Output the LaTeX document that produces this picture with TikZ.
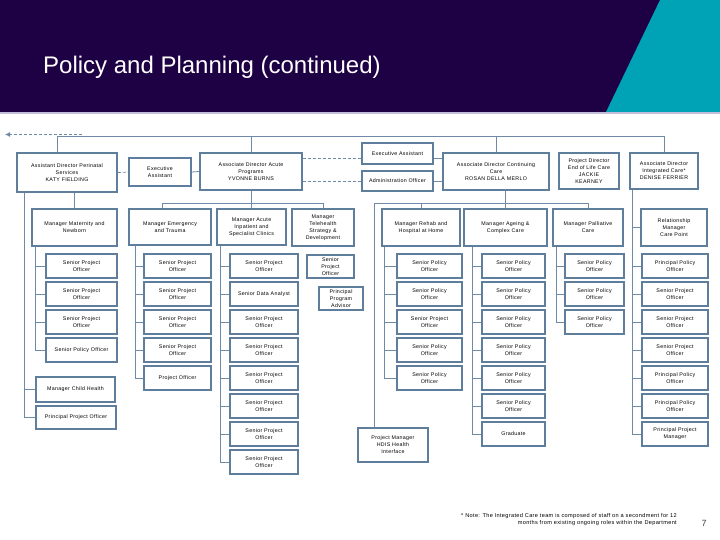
\documentclass[tikz,border=0pt]{standalone}
\usepackage{fontspec}
\setmainfont{Liberation Sans}
\newfontfamily\spacedfam[LetterSpace=6]{Liberation Sans}
\usetikzlibrary{calc}
\usetikzlibrary{positioning, arrows.meta}

\definecolor{navy}{HTML}{1E0044}
\definecolor{teal}{HTML}{00A2B6}
\definecolor{rule}{HTML}{C4BEDA}
\definecolor{postblue}{HTML}{5F7E9C}
\definecolor{linkblue}{HTML}{6F8AA6}

\newcommand{\boxfont}{\spacedfam\fontsize{5.3}{7}\selectfont}

\tikzset{
    post/.style={draw=postblue, line width=1.5pt, fill=white, align=center,
        font=\boxfont, inner sep=1pt, text=black},
    link/.style={draw=linkblue, line width=0.8pt},
    dashlink/.style={link, dash pattern=on 3pt off 2pt}
}

\begin{document}
\begin{tikzpicture}[x=1pt, y=-1pt]

    % --- Page and header ---
    \useasboundingbox (0,0) rectangle (720,540);
    \fill[white] (0,0) rectangle (720,540);
    \fill[navy] (0,0) rectangle (720,112);
    \fill[teal] (660,0) -- (720,0) -- (720,112) -- (606,112) -- cycle;
    \fill[rule] (0,112) rectangle (720,114);
    \node[anchor=west, text=white, font=\fontsize{24}{27}\selectfont, inner sep=0pt]
        (title) at (43,67) {Policy and Planning (continued)};

    % --- Directors ---
    \node[post, minimum width=100pt, minimum height=39pt] (katy) at (67,172.5)
        {Assistant Director Perinatal\\Services\\KATY FIELDING};
    \node[post, minimum width=62pt, minimum height=28pt] (eaL) at (160,172)
        {Executive\\Assistant};
    \node[post, minimum width=102pt, minimum height=37pt] (yvonne) at (251,171.5)
        {Associate Director Acute\\Programs\\YVONNE BURNS};
    \node[post, minimum width=71pt, minimum height=21pt] (eaR) at (397.5,153.5)
        {Executive Assistant};
    \node[post, minimum width=71pt, minimum height=20pt] (adm) at (397.5,181)
        {Administration Officer};
    \node[post, minimum width=106pt, minimum height=37pt] (rosanne) at (496,171.5)
        {Associate Director Continuing\\Care\\ROSAN DELLA MERLO};
    \node[post, minimum width=60pt, minimum height=36pt] (jackie) at (589,171)
        {Project Director\\End of Life Care\\JACKIE\\KEARNEY};
    \node[post, minimum width=68pt, minimum height=36pt] (denise) at (664,171)
        {Associate Director\\Integrated Care*\\DENISE FERRIER};

    % --- Managers ---
    \node[post, minimum width=85pt, minimum height=37pt] (mat) at (74.5,227.5)
        {Manager Maternity and\\Newborn};
    \node[post, minimum width=82pt, minimum height=36pt] (emg) at (170,227)
        {Manager Emergency\\and Trauma};
    \node[post, minimum width=69pt, minimum height=36pt] (acu) at (251.5,227)
        {Manager Acute\\Inpatient and\\Specialist Clinics};
    \node[post, minimum width=62pt, minimum height=37pt] (tele) at (323,227.5)
        {Manager\\Telehealth\\Strategy \&\\Development};
    \node[post, minimum width=78pt, minimum height=37pt] (reh) at (421,227.5)
        {Manager Rehab and\\Hospital at Home};
    \node[post, minimum width=83pt, minimum height=37pt] (age) at (505.5,227.5)
        {Manager Ageing \&\\Complex Care};
    \node[post, minimum width=70pt, minimum height=37pt] (pal) at (588,227.5)
        {Manager Palliative\\Care};
    \node[post, minimum width=66pt, minimum height=37pt] (rel) at (674,227.5)
        {Relationship\\Manager\\Care Point};

    % --- Single posts ---
    \node[post, minimum width=47pt, minimum height=23pt] (tsp) at (330.5,266.5)
        {Senior\\Project\\Officer};
    \node[post, minimum width=44pt, minimum height=23pt] (ppa) at (341,298.5)
        {Principal\\Program\\Advisor};
    \node[post, minimum width=79pt, minimum height=25pt] (child) at (75.5,389.5)
        {Manager Child Health};
    \node[post, minimum width=80pt, minimum height=23pt] (ppo) at (76,417.5)
        {Principal Project Officer};
    \node[post, minimum width=70pt, minimum height=34pt] (hdis) at (393,445)
        {Project Manager\\HDIS Health\\Interface};

    % --- Top level connectors ---
    \coordinate (tbar) at (0,136);
    \coordinate (katytop) at ([xshift=-10pt]katy.north);
    \draw[link] (katytop) |- (tbar -| denise.north) -- (denise.north);
    \draw[link] (yvonne.north) -- (yvonne.north |- tbar);
    \draw[link] (rosanne.north) -- (rosanne.north |- tbar);
    \coordinate (upstart) at (82,134.5);
    \coordinate (upend) at (5,134.5);
    \draw[dashlink, -{Latex[length=5pt, width=5pt]}] (upstart) -- (upend);

    % Assistants
    \draw[dashlink] (katy.east) -- (eaL.west);
    \draw[link] (eaL.east) -- (yvonne.west);
    \coordinate (dashA) at ($(eaR.west)+(0,5)$);
    \draw[dashlink] (yvonne.east |- dashA) -- (dashA);
    \draw[dashlink] (yvonne.east |- adm.west) -- (adm.west);
    \draw[link] (eaR.east |- dashA) -- (rosanne.west |- dashA);
    \draw[link] (adm.east) -- (rosanne.west |- adm.east);

    % --- Perinatal ---
    \draw[link] (mat.north) -- (mat.north |- katy.south);
    \coordinate (katyspine) at ([xshift=8pt]katy.south west);
    \draw[link] (katyspine) |- (child.west);
    \draw[link] (katyspine) |- (ppo.west);

    % --- Acute programs ---
    \coordinate (ybar) at (0,203);
    \coordinate (emgtop) at ([xshift=-8pt]emg.north);
    \draw[link] (emgtop) |- (ybar -| tele.north) -- (tele.north);
    \draw[link] (yvonne.south) -- (yvonne.south |- acu.north);

    % --- Continuing care ---
    \coordinate (rbar) at (0,203);
    \coordinate (hdistop) at ([xshift=-19pt]hdis.north);
    \draw[link] (hdistop) |- (rbar -| pal.north) -- (pal.north);
    \draw[link] (age.north |- rosanne.south) -- (age.north);
    \draw[link] (reh.north) -- (reh.north |- rbar);

    % --- Integrated care ---
    \coordinate (intspine) at ([xshift=3pt]denise.south west);
    \draw[link] (intspine) |- (rel.west);

    % --- Staff columns ---
    \foreach \txt [count=\i] in {{Senior Project\\Officer}, {Senior Project\\Officer},
        {Senior Project\\Officer}, {Senior Policy Officer}} {
        \node[post, minimum width=71pt, minimum height=24pt] (mat\i) at (81.5, 238+28*\i) {\txt};
        \draw[link] ([xshift=4pt]mat.south west) |- (mat\i.west);
    }
    \foreach \txt [count=\i] in {{Senior Project\\Officer}, {Senior Project\\Officer},
        {Senior Project\\Officer}, {Senior Project\\Officer}, {Project Officer}} {
        \node[post, minimum width=67pt, minimum height=24pt] (emg\i) at (177.5, 238+28*\i) {\txt};
        \draw[link] ([xshift=7pt]emg.south west) |- (emg\i.west);
    }
    \foreach \txt [count=\i] in {{Senior Project\\Officer}, {Senior Data Analyst},
        {Senior Project\\Officer}, {Senior Project\\Officer}, {Senior Project\\Officer},
        {Senior Project\\Officer}, {Senior Project\\Officer}, {Senior Project\\Officer}} {
        \node[post, minimum width=68pt, minimum height=24pt] (acu\i) at (264, 238+28*\i) {\txt};
        \draw[link] ([xshift=4pt]acu.south west) |- (acu\i.west);
    }
    \foreach \txt [count=\i] in {{Senior Policy\\Officer}, {Senior Policy\\Officer},
        {Senior Project\\Officer}, {Senior Policy\\Officer}, {Senior Policy\\Officer}} {
        \node[post, minimum width=65pt, minimum height=24pt] (reh\i) at (429.5, 238+28*\i) {\txt};
        \draw[link] ([xshift=3pt]reh.south west) |- (reh\i.west);
    }
    \foreach \txt [count=\i] in {{Senior Policy\\Officer}, {Senior Policy\\Officer},
        {Senior Policy\\Officer}, {Senior Policy\\Officer}, {Senior Policy\\Officer},
        {Senior Policy\\Officer}, {Graduate}} {
        \node[post, minimum width=63pt, minimum height=24pt] (age\i) at (513.5, 238+28*\i) {\txt};
        \draw[link] ([xshift=9pt]age.south west) |- (age\i.west);
    }
    \foreach \txt [count=\i] in {{Senior Policy\\Officer}, {Senior Policy\\Officer},
        {Senior Policy\\Officer}} {
        \node[post, minimum width=59pt, minimum height=24pt] (pal\i) at (594.5, 238+28*\i) {\txt};
        \draw[link] ([xshift=4pt]pal.south west) |- (pal\i.west);
    }
    \foreach \txt [count=\i] in {{Principal Policy\\Officer}, {Senior Project\\Officer},
        {Senior Project\\Officer}, {Senior Project\\Officer}, {Principal Policy\\Officer},
        {Principal Policy\\Officer}, {Principal Project\\Manager}} {
        \node[post, minimum width=66pt, minimum height=24pt] (int\i) at (675, 238+28*\i) {\txt};
        \draw[link] (intspine) |- (int\i.west);
    }

    % --- Footer ---
    \node[anchor=east, align=right, font=\spacedfam\fontsize{5.6}{7.5}\selectfont, inner sep=0pt]
        (note) at (677,519.5) {* Note: The Integrated Care team is composed of staff on a secondment for 12\\
        months from existing ongoing roles within the Department};
    \node[font=\fontsize{9}{10}\selectfont, text=black!75, inner sep=0pt] (page) at (704,523) {7};

\end{tikzpicture}
\end{document}
